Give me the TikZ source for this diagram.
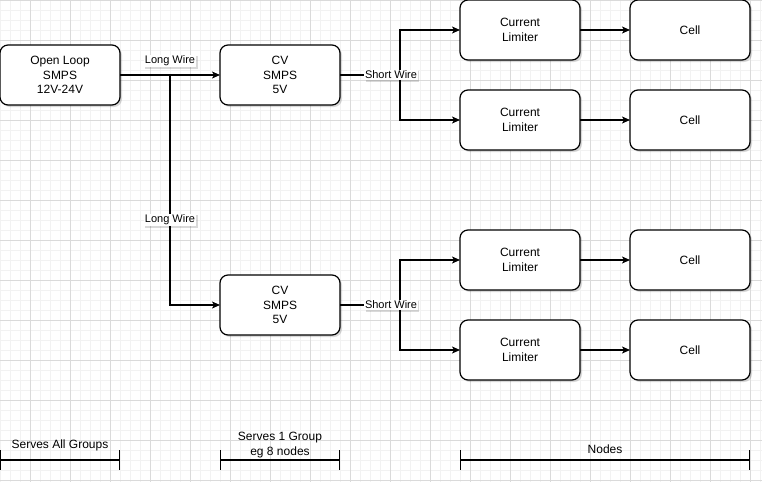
\documentclass[tikz,border=0pt]{standalone}
\usepackage{fontspec}
\setmainfont{Liberation Sans}
\usetikzlibrary{positioning,arrows.meta,shadows}

\definecolor{gridminor}{HTML}{F2F2F2}
\definecolor{gridmajor}{HTML}{DADADA}

\begin{document}
\begin{tikzpicture}[x=1pt,y=-1pt,
			>={Stealth[length=8pt,width=7pt,inset=2pt]},
			node distance=30pt,
			box/.style={
				draw,
				fill=white,
				rounded corners=8pt,
				line width=1.2pt,
				minimum width=120pt,
				minimum height=60pt,
				outer sep=0pt,
				align=center,
				font=\fontsize{12}{14.4}\selectfont,
				drop shadow={shadow xshift=2pt,shadow yshift=-2pt,opacity=.15,fill=black}
			},
			wire/.style={line width=1.2pt},
			wirelbl/.style={
				fill=white,
				inner sep=1pt,
				font=\fontsize{11}{13}\selectfont,
				drop shadow={shadow xshift=1.5pt,shadow yshift=-1.5pt,opacity=.15,fill=black}
			},
			spanline/.style={line width=1.2pt,{Bar[width=20pt]}-{Bar[width=20pt]}},
			spanlbl/.style={align=center,font=\fontsize{12}{14.4}\selectfont}]
			
			% page and grid
			\fill[white] (0,0) rectangle (762,482);
			\useasboundingbox (0,0) rectangle (762,482);
			\foreach \gx in {0,10,...,760} \draw[gridminor] (\gx,0) -- (\gx,482);
			\foreach \gy in {0,10,...,480} \draw[gridminor] (0,\gy) -- (762,\gy);
			\foreach \gx in {30,70,...,750} \draw[gridmajor] (\gx,0) -- (\gx,482);
			\foreach \gy in {0,40,...,480} \draw[gridmajor] (0,\gy) -- (762,\gy);
			
			\node[box] (src) at (60,75) {Open Loop\\SMPS\\12V-24V};
			
			\node[box] (cvA)[right=100pt of src]{CV\\SMPS\\5V};
			
			\node[box] (cvB)[below=170pt of cvA]{CV\\SMPS\\5V};
			
			\node[box] (limA1) at (520,30) {Current\\Limiter};
			
			\node[box] (limA2)[below=of limA1]{Current\\Limiter};
			
			\node[box] (limB1)[below=80pt of limA2]{Current\\Limiter};
			
			\node[box] (limB2)[below=of limB1]{Current\\Limiter};
			
			\node[box] (cellA1)[right=50pt of limA1]{Cell};
			
			\node[box] (cellA2)[right=50pt of limA2]{Cell};
			
			\node[box] (cellB1)[right=50pt of limB1]{Cell};
			
			\node[box] (cellB2)[right=50pt of limB2]{Cell};
			
			% wire junctions
			\coordinate (jA) at (170,75);
			\coordinate (sA) at (400,75);
			\coordinate (sB) at (400,305);
			
			\draw[wire,->](jA) |- node[wirelbl,pos=.315]{Long Wire} (cvB);
			
			\draw[wire,->](src)-- node[wirelbl,yshift=14pt]{Long Wire} (cvA);
			
			\draw[wire,->](sA) |- (limA1);
			
			\draw[wire,->](sA) |- (limA2);
			
			\draw[wire](cvA)-- node[wirelbl,pos=.85]{Short Wire} (sA);
			
			\draw[wire,->](sB) |- (limB1);
			
			\draw[wire,->](sB) |- (limB2);
			
			\draw[wire](cvB)-- node[wirelbl,pos=.85]{Short Wire} (sB);
			
			\draw[wire,->](limA1)--(cellA1);
			
			\draw[wire,->](limA2)--(cellA2);
			
			\draw[wire,->](limB1)--(cellB1);
			
			\draw[wire,->](limB2)--(cellB2);
			
			% spans
			\coordinate (allL) at (0,460);
			\coordinate (allR) at (120,460);
			\coordinate (grpL) at (220,460);
			\coordinate (grpR) at (340,460);
			\coordinate (ndsL) at (460,460);
			\coordinate (ndsR) at (750,460);
			
			\draw[spanline](allL)-- node[spanlbl,yshift=15pt]{Serves All Groups} (allR);
			
			\draw[spanline](grpL)-- node[spanlbl,yshift=15pt]{Serves 1 Group\\eg 8 nodes} (grpR);
			
			\draw[spanline](ndsL)-- node[spanlbl,yshift=11pt]{Nodes} (ndsR);
			
		\end{tikzpicture}
\end{document}
